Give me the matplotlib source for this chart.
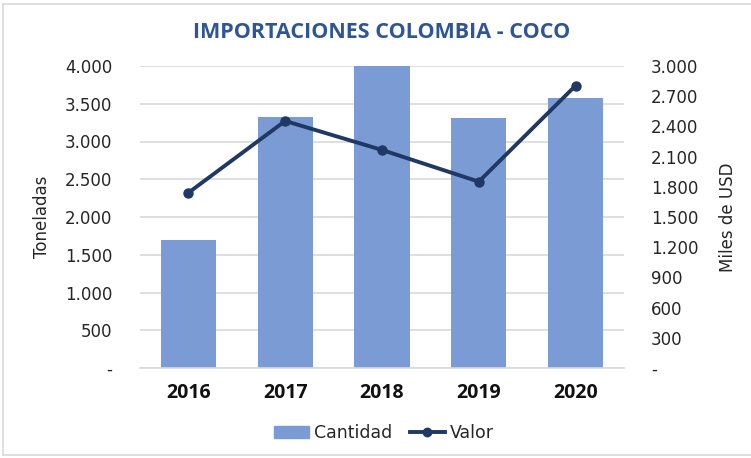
import matplotlib
matplotlib.use("Agg")
import matplotlib.pyplot as plt
from matplotlib.ticker import FuncFormatter, MultipleLocator
from matplotlib.lines import Line2D

years = ["2016", "2017", "2018", "2019", "2020"]
cantidad = [1695, 3330, 4000, 3315, 3576]
valor = [1741, 2454, 2166, 1851, 2805]

plt.rcParams['font.family'] = ['DejaVu Sans']

W, H = 751, 458
fig = plt.figure(figsize=(W/100, H/100), dpi=100)
ax = fig.add_axes([140/W, 1-368/H, 484/W, 302/H])
ax2 = ax.twinx()

bar_color = "#7A9BD4"
line_color = "#203864"
grid_color = "#D9D9D9"
text_color = "#262626"

x = list(range(len(years)))
ax.bar(x, cantidad, width=0.57, color=bar_color, zorder=2, label="Cantidad")
ax2.plot(x, valor, color=line_color, lw=2.8, marker="o", markersize=6.5, zorder=3, label="Valor")

ax.set_xlim(-0.5, len(years)-0.5)
ax.set_ylim(0, 4000)
ax2.set_ylim(0, 3000)
ax.yaxis.set_major_locator(MultipleLocator(500))
ax2.yaxis.set_major_locator(MultipleLocator(300))

def fmt(v, pos):
    if abs(v) < 1e-9:
        return "-"
    return f"{int(round(v)):,}".replace(",", ".")

ax.yaxis.set_major_formatter(FuncFormatter(fmt))
ax2.yaxis.set_major_formatter(FuncFormatter(fmt))

ax.grid(axis="y", color=grid_color, lw=1.2, zorder=0)
ax.set_axisbelow(True)
for a in (ax, ax2):
    for s in a.spines.values():
        s.set_visible(False)
ax.spines["bottom"].set_visible(True)
ax.spines["bottom"].set_color(grid_color)
ax.spines["bottom"].set_linewidth(1.2)

ax.set_xticks(x)
ax.set_xticklabels(years, fontsize=14, fontweight="bold", color="#111111",
                   family=["Open Sans", "DejaVu Sans"])
ax.tick_params(axis="x", length=0, pad=11)
ax.tick_params(axis="y", length=0, labelsize=12, labelcolor=text_color, pad=20)
ax2.tick_params(axis="y", length=0, labelsize=12, labelcolor=text_color, pad=19.5)
for lbl in ax.get_yticklabels():
    lbl.set_horizontalalignment("right")

ax.set_ylabel("Toneladas", fontsize=12, color=text_color, labelpad=10)
ax2.set_ylabel("Miles de USD", fontsize=12, color=text_color, labelpad=15)

fig.text(382/W, 1-32/H, "IMPORTACIONES COLOMBIA - COCO", ha="center", va="center",
         fontsize=15.5, fontweight="bold", color="#2F5597", family=["Open Sans", "DejaVu Sans"])

handles = [plt.Rectangle((0, 0), 1, 1, color=bar_color),
           Line2D([], [], color=line_color, lw=2.8, marker="o", markersize=6)]
fig.legend(handles, ["Cantidad", "Valor"], loc="center", bbox_to_anchor=(384/W, 1-433/H),
           ncol=2, frameon=False, fontsize=12.5, handlelength=2.0, handletextpad=0.3,
           columnspacing=1.0, labelcolor=text_color)

# outer chart border
fig.add_artist(Line2D([3/W, 3/W], [1-4/H, 1-455/H], color=grid_color, lw=1.2, transform=fig.transFigure))
fig.add_artist(Line2D([3/W, 1], [1-4/H, 1-4/H], color=grid_color, lw=1.2, transform=fig.transFigure))
fig.add_artist(Line2D([3/W, 1], [1-455/H, 1-455/H], color=grid_color, lw=1.2, transform=fig.transFigure))

fig.savefig("out.png", dpi=100)
